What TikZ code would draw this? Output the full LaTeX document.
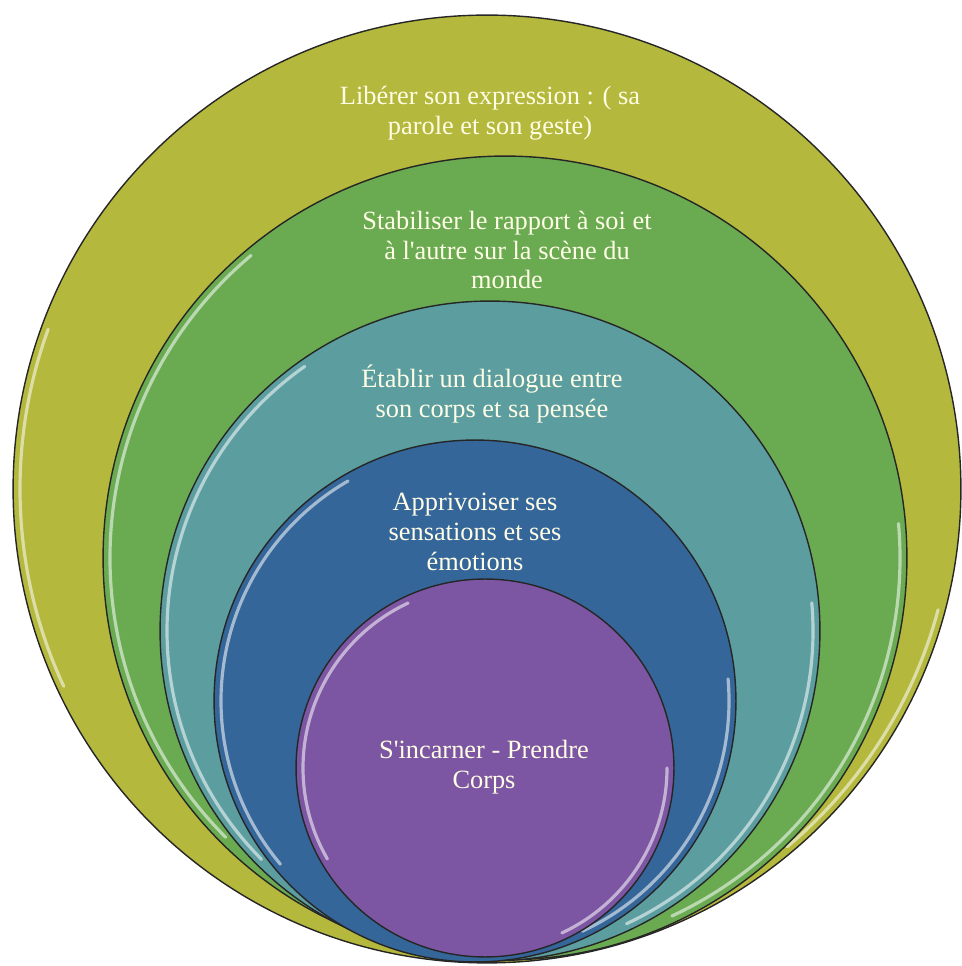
\documentclass[tikz,border=0pt]{standalone}
\usepackage{fontspec}
\setmainfont{Liberation Serif}
\definecolor{ringolive}{HTML}{B4B83C}
\definecolor{ringgreen}{HTML}{6AAB52}
\definecolor{ringteal}{HTML}{5C9EA0}
\definecolor{ringblue}{HTML}{35669A}
\definecolor{ringpurple}{HTML}{7C56A2}
\definecolor{textcream}{HTML}{FFFDE6}
\begin{document}
\begin{tikzpicture}[x=0.02cm, y=0.02cm,
    ring/.style={circle, draw=black!85, line width=0.8pt, inner sep=0pt},
    gloss/.style={white, opacity=0.55, line width=1.8pt, line cap=round},
    ringtext/.style={text=textcream, align=center, font=\fontsize{15}{17}\selectfont}]
    \useasboundingbox (0,0) rectangle (961,966);
    % outer ring
    \node[ring, fill=ringolive, minimum size=18.96cm] (libere) at (487,477) {};
    \draw[gloss] (487,477) ++(160:467) arc[start angle=160, end angle=205, radius=467];
    \draw[gloss] (487,477) ++(-50:467) arc[start angle=-50, end angle=-15, radius=467];
    % second ring
    \node[ring, fill=ringgreen, minimum size=16.08cm] (stabilise) at (505,408) {};
    \draw[gloss] (505,408) ++(130:395) arc[start angle=130, end angle=225, radius=395];
    \draw[gloss] (505,408) ++(-65:395) arc[start angle=-65, end angle=5, radius=395];
    % third ring
    \node[ring, fill=ringteal, minimum size=13.2cm] (etablit) at (490,335) {};
    \draw[gloss] (490,335) ++(125:323) arc[start angle=125, end angle=225, radius=323];
    \draw[gloss] (490,335) ++(-65:323) arc[start angle=-65, end angle=5, radius=323];
    % fourth ring
    \node[ring, fill=ringblue, minimum size=10.44cm] (apprivoise) at (475,265) {};
    \draw[gloss] (475,265) ++(120:254) arc[start angle=120, end angle=220, radius=254];
    \draw[gloss] (475,265) ++(-65:254) arc[start angle=-65, end angle=5, radius=254];
    % inner disc
    \node[ring, fill=ringpurple, minimum size=7.56cm] (incarne) at (485,198) {};
    \draw[gloss] (485,198) ++(115:182) arc[start angle=115, end angle=210, radius=182];
    \draw[gloss] (485,198) ++(-65:182) arc[start angle=-65, end angle=0, radius=182];
    % texts
    \node[ringtext] (t1) at (490,853) {Libérer son expression : ( sa\\parole et son geste)};
    \node[ringtext] (t2) at (507,716) {Stabiliser le rapport à soi et\\à l\textquotesingle autre sur la scène du\\monde};
    \node[ringtext] (t3) at (492,572) {Établir un dialogue entre\\son corps et sa pensée};
    \node[ringtext] (t4) at (475,434) {Apprivoiser ses\\sensations et ses\\émotions};
    \node[ringtext] (t5) at (484,199) {S\textquotesingle incarner - Prendre\\Corps};
\end{tikzpicture}
\end{document}
